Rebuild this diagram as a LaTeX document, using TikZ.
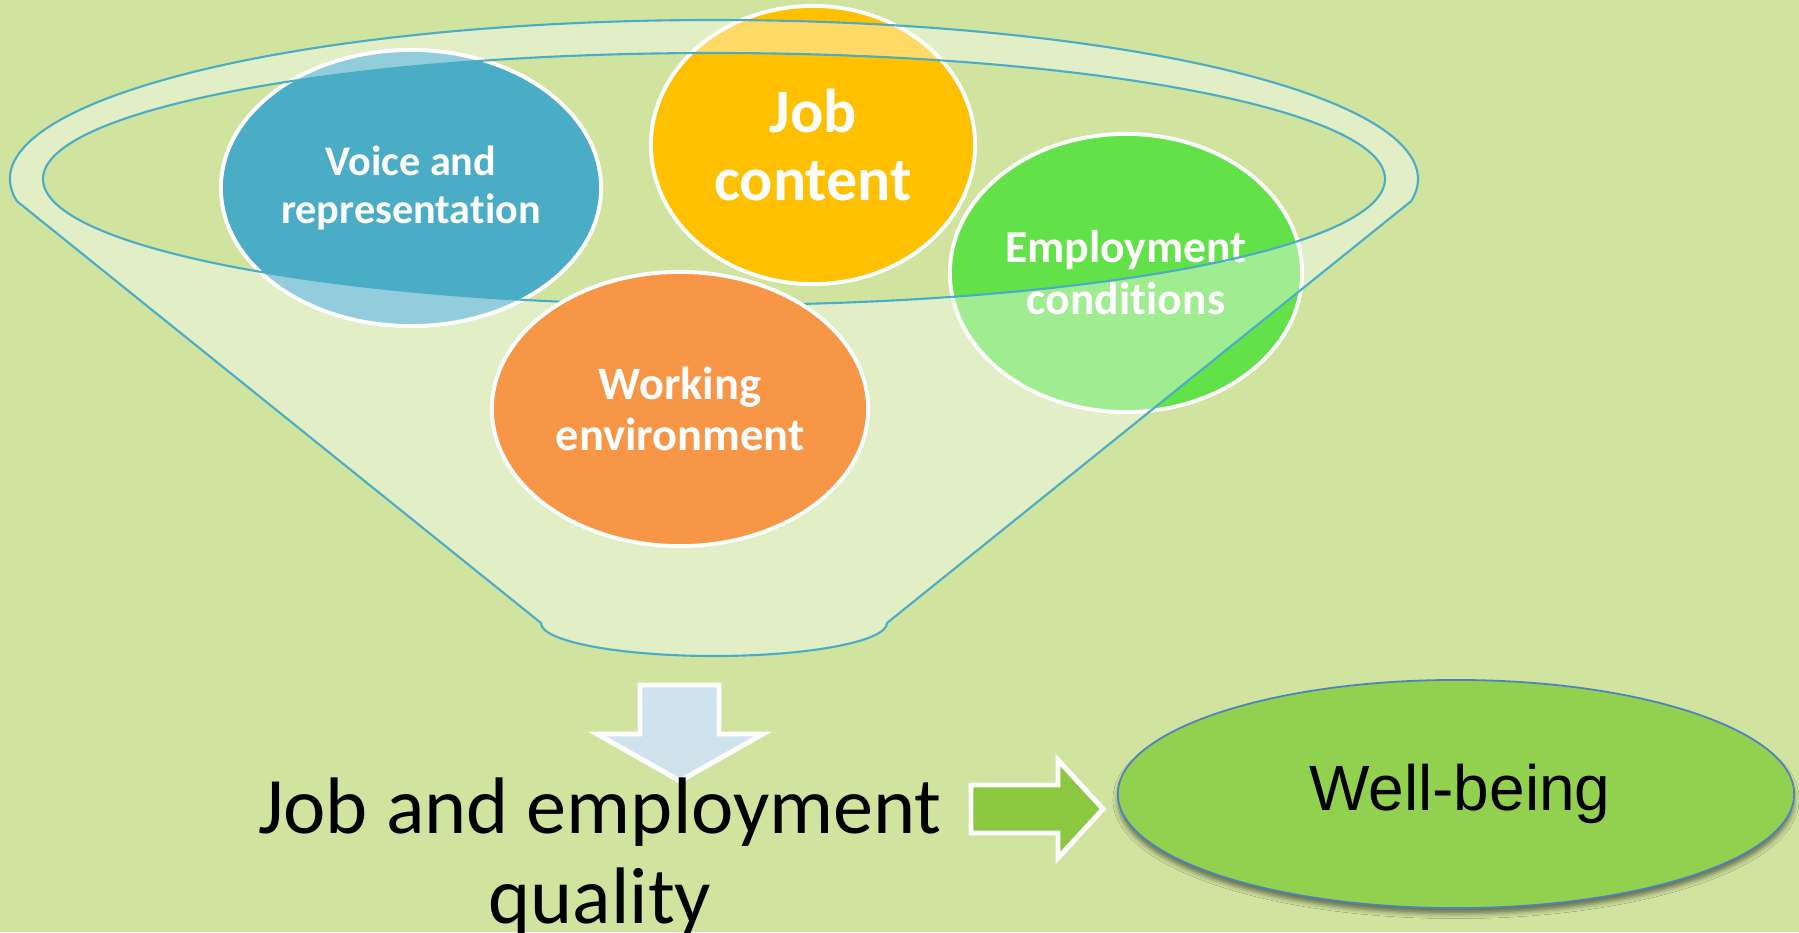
\documentclass[tikz,border=0pt]{standalone}
\usepackage{fontspec}
\setmainfont{Carlito}[RawFeature={-liga;-clig;-calt;-dlig}]
\newfontfamily\labelsans{Liberation Sans}
\usetikzlibrary{shapes.geometric,shadows.blur,positioning}
\definecolor{bgolive}{HTML}{D0E39F}
\definecolor{funnelblue}{HTML}{4BACC6}
\definecolor{voiceblue}{HTML}{4BACC6}
\definecolor{jobyellow}{HTML}{FFC000}
\definecolor{emplgreen}{HTML}{62E248}
\definecolor{workorange}{HTML}{F79646}
\definecolor{wellgreen}{HTML}{92D050}
\definecolor{wellborder}{HTML}{4F81BD}
\definecolor{arrowblue}{HTML}{D0E3EC}
\definecolor{arrowgreen}{HTML}{8DC842}

\begin{document}
\begin{tikzpicture}[
  x=0.01cm, y=0.01cm,
  bubble/.style={ellipse, draw=white, line width=1.1pt, inner sep=0pt, align=center,
                 text=white},
  funnelline/.style={draw=funnelblue, line width=0.6pt},
  blockarrow/.style={draw=white, line width=1.4pt, line join=miter}
]
  \fill[bgolive] (0,0) rectangle (1799,932);
  \clip (0,0) rectangle (1799,932);

  % factors that sit behind the funnel
  \node[bubble, fill=voiceblue, minimum width=3.8cm, minimum height=2.76cm,
        font=\bfseries\fontsize{12}{13.6}\selectfont] (voice) at (411,744)
    {Voice and\\representation};
  \node[bubble, fill=jobyellow, minimum width=3.24cm, minimum height=2.78cm,
        font=\bfseries\fontsize{17.6}{19.4}\selectfont] (content) at (813,787)
    {Job\\content};
  \node[bubble, fill=emplgreen, minimum width=3.52cm, minimum height=2.78cm,
        font=\bfseries\fontsize{13}{14.8}\selectfont] (conditions) at (1126,659)
    {Employment\\conditions};

  % funnel: rim, body and open mouth
  \path[funnelline, fill=white, fill opacity=0.4, even odd rule]
    (714,753) ++(188:704 and 159)
      arc[start angle=188, end angle=-8, x radius=704, y radius=159]
    -- (887,309) arc[start angle=0, end angle=-180, x radius=173, y radius=33]
    -- cycle
    (714,753) ellipse[x radius=671, y radius=126];

  \node[bubble, fill=workorange, minimum width=3.76cm, minimum height=2.74cm,
        font=\bfseries\fontsize{13.2}{14.6}\selectfont] (environment) at (680,523)
    {Working\\environment};

  % block arrows
  \filldraw[blockarrow, fill=arrowblue]
    (640,247) -- (719,247) -- (719,198) -- (763,198) -- (680,151)
    -- (597,198) -- (640,198) -- cycle;
  \filldraw[blockarrow, fill=arrowgreen]
    (971,147) -- (1058,147) -- (1058,172) -- (1103,123) -- (1058,74)
    -- (1058,99) -- (971,99) -- cycle;

  \node[align=center, font=\fontsize{22.8}{25.5}\selectfont] (quality) at (600,75)
    {Job and employment\\quality};

  \node[ellipse, fill=wellgreen, draw=wellborder, line width=0.5pt, inner sep=0pt,
        minimum width=6.76cm, minimum height=2.28cm,
        blur shadow={shadow xshift=0pt, shadow yshift=-1.6pt, shadow blur radius=1.4pt,
                     shadow opacity=50},
        font=\labelsans\fontsize{18.2}{21}\selectfont] (wellbeing) at (1456,138) {};
  \node[font=\labelsans\fontsize{18.2}{21}\selectfont, anchor=base] at (1460,122)
    {Well-being};
\end{tikzpicture}
\end{document}
